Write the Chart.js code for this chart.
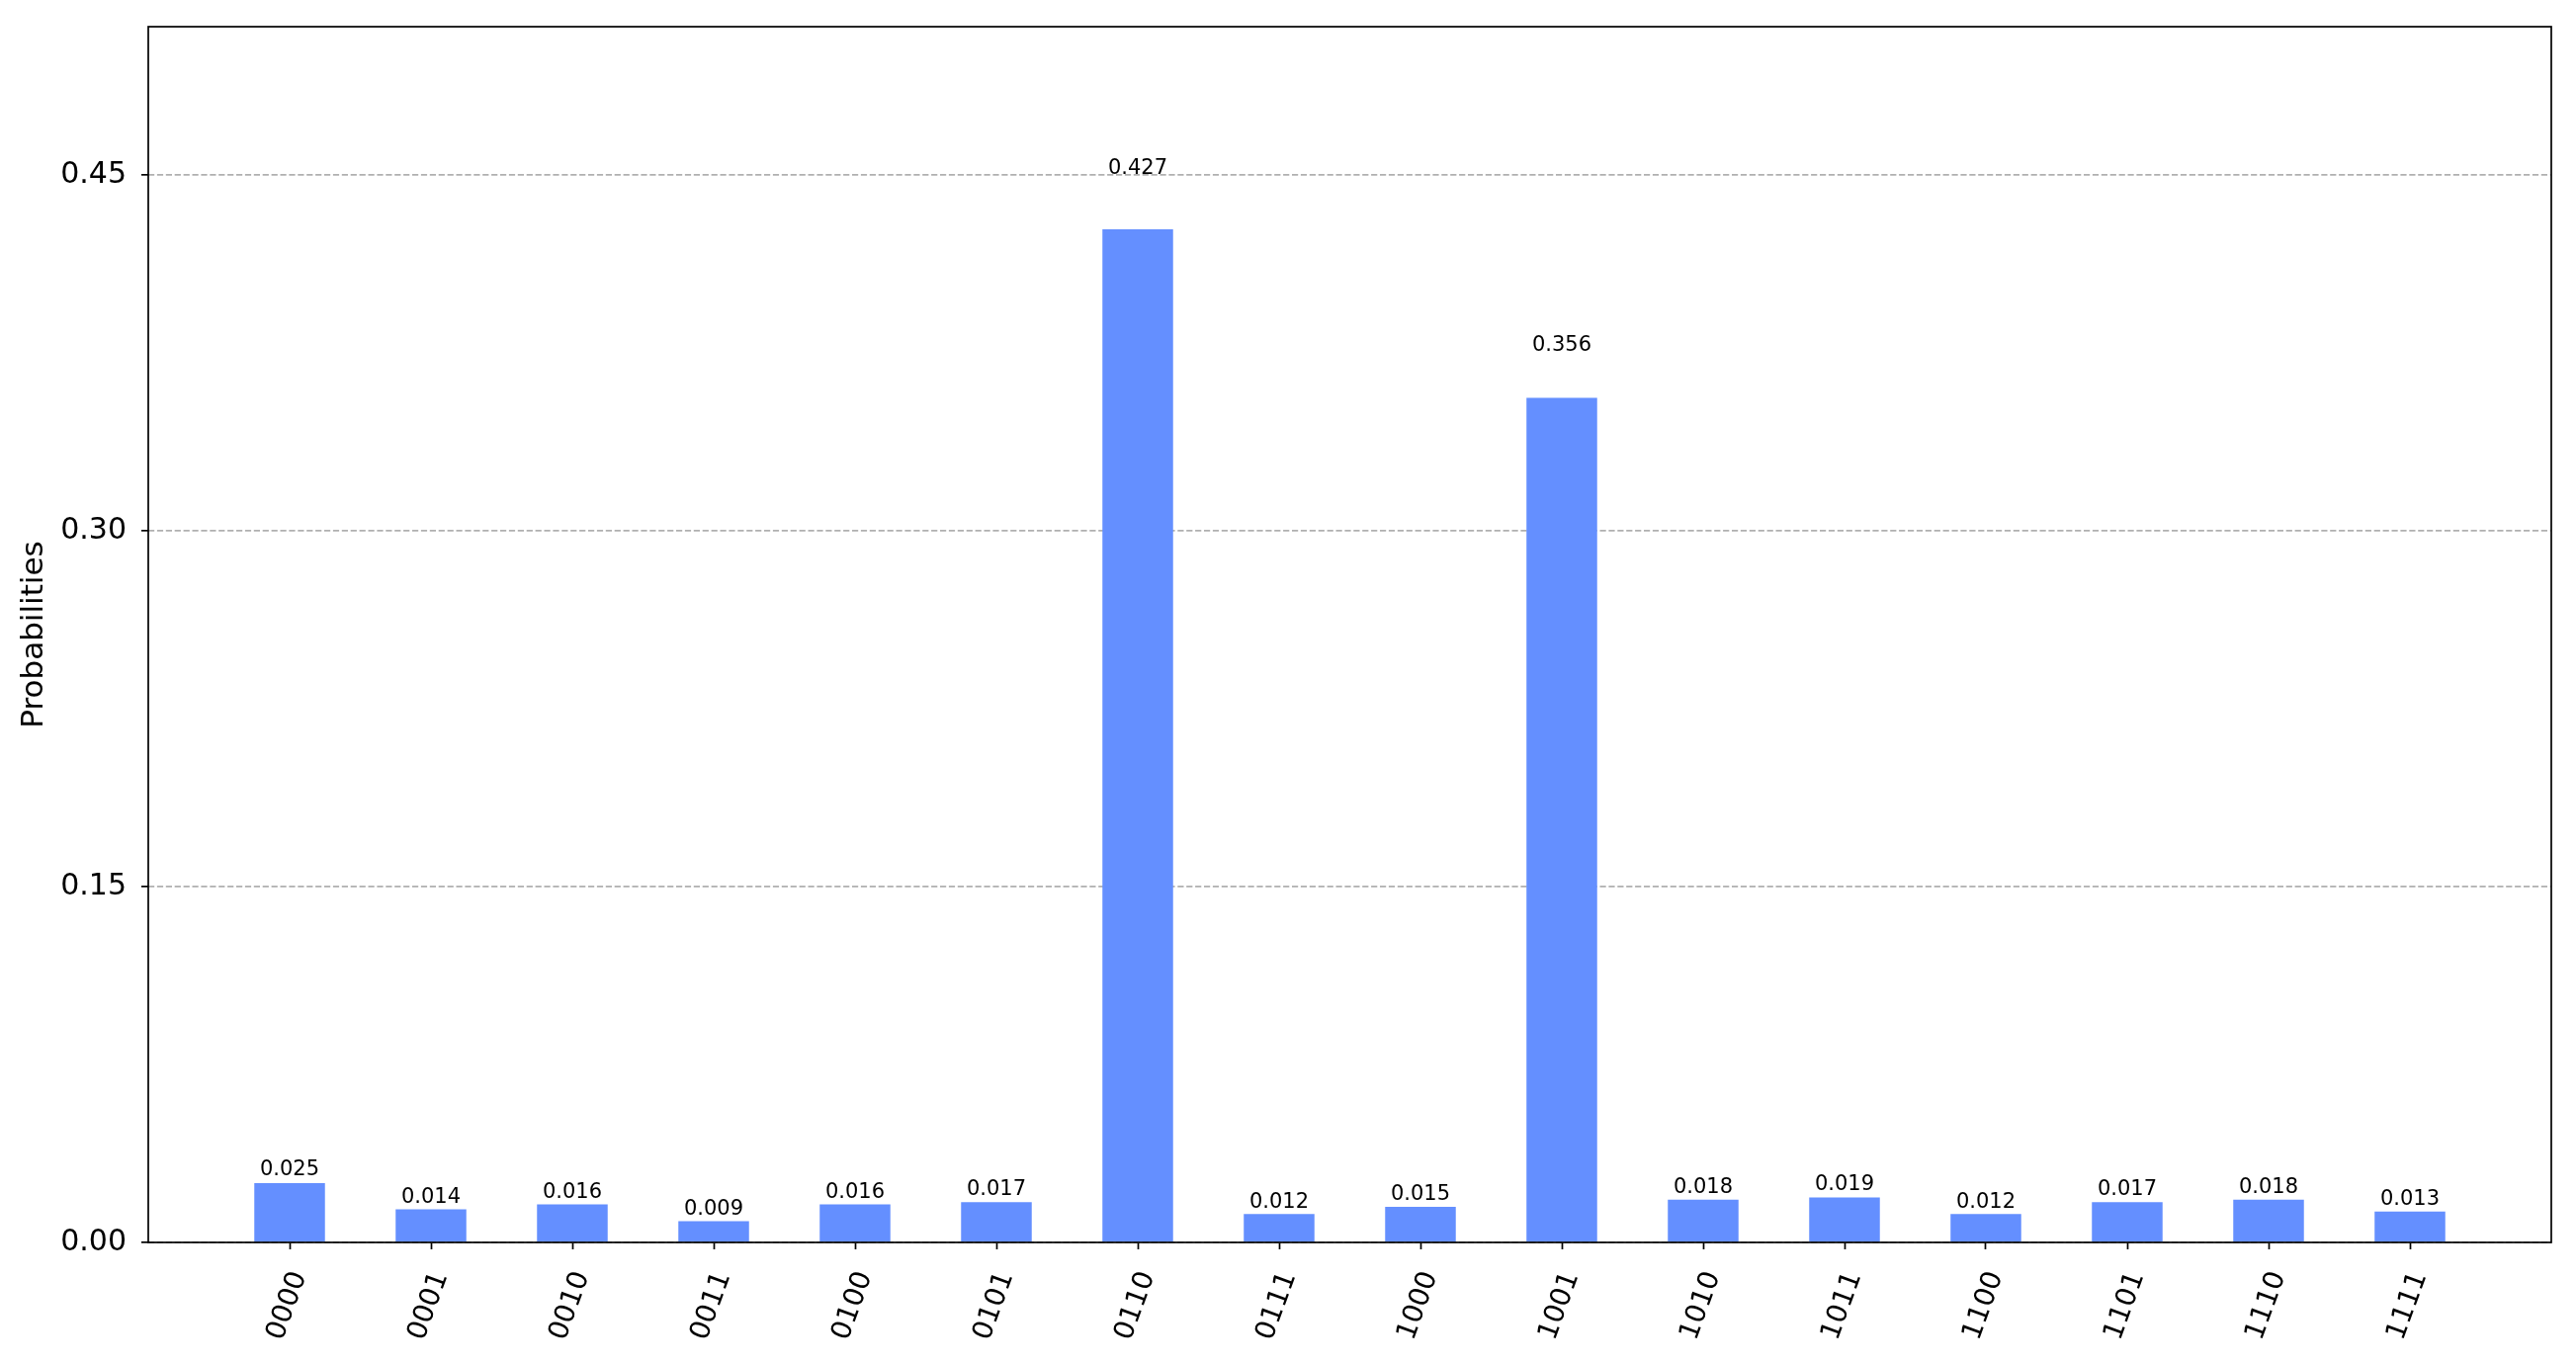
<!DOCTYPE html>
<html>
<head>
<meta charset="utf-8">
<title>Probabilities</title>
<script src="https://cdn.jsdelivr.net/npm/chart.js@4.4.1/dist/chart.umd.min.js"></script>
<style>
  html, body { margin: 0; padding: 0; background: #ffffff; }
  #wrap { width: 2606px; height: 1380px; }
</style>
</head>
<body>
<div id="wrap">
  <canvas id="histChart" width="2606" height="1380"></canvas>
</div>
<script>
// measured states and their probabilities
const states = ["0000", "0001", "0010", "0011", "0100", "0101", "0110", "0111",
                "1000", "1001", "1010", "1011", "1100", "1101", "1110", "1111"];
const probabilities = [0.025, 0.014, 0.016, 0.009, 0.016, 0.017, 0.427, 0.012,
                       0.015, 0.356, 0.018, 0.019, 0.012, 0.017, 0.018, 0.013];
const yTicks = [0, 0.15, 0.30, 0.45];

const barColor = "#648FFF";
const fontFamily = "'DejaVu Sans', sans-serif";

// value label above each bar, at 1.05 * height like the original plot
const valueLabels = {
    id: "valueLabels",
    afterDatasetsDraw(chart) {
        const ctx = chart.ctx;
        const meta = chart.getDatasetMeta(0);
        const yScale = chart.scales.y;
        ctx.save();
        ctx.font = "21px " + fontFamily;
        ctx.fillStyle = "#000000";
        ctx.textAlign = "center";
        ctx.textBaseline = "bottom";
        meta.data.forEach(function (bar, i) {
            const v = probabilities[i];
            ctx.fillText(v.toFixed(3), bar.x, yScale.getPixelForValue(v * 1.05));
        });
        ctx.restore();
    }
};

// full box around the plot area
const frame = {
    id: "frame",
    afterDraw(chart) {
        const a = chart.chartArea;
        const ctx = chart.ctx;
        ctx.save();
        ctx.strokeStyle = "#000000";
        ctx.lineWidth = 1.7;
        ctx.strokeRect(a.left, a.top, a.right - a.left, a.bottom - a.top);
        ctx.restore();
    }
};

document.addEventListener("DOMContentLoaded", function () {
    const ctx = document.getElementById("histChart").getContext("2d");

    new Chart(ctx, {
        type: "bar",
        data: {
            datasets: [{
                data: states.map((s, i) => ({ x: i, y: probabilities[i] })),
                backgroundColor: barColor,
                borderWidth: 0,
                barPercentage: 0.5,
                categoryPercentage: 1.0
            }]
        },
        options: {
            responsive: false,
            devicePixelRatio: 1,
            animation: false,
            layout: {
                padding: { top: 27, right: 25, left: 0, bottom: 0 }
            },
            scales: {
                x: {
                    type: "linear",
                    min: -1,
                    max: 16,
                    offset: false,
                    afterBuildTicks: function (scale) {
                        scale.ticks = states.map((s, i) => ({ value: i }));
                    },
                    afterFit: function (scale) {
                        scale.height = 123;
                        scale.paddingLeft = 0;
                        scale.paddingRight = 0;
                    },
                    grid: {
                        offset: false,
                        drawOnChartArea: false,
                        drawTicks: true,
                        tickLength: 7,
                        tickWidth: 1.7,
                        tickColor: "#000000"
                    },
                    border: { display: false },
                    ticks: {
                        autoSkip: false,
                        minRotation: 70,
                        maxRotation: 70,
                        padding: 18,
                        labelOffset: 10,
                        color: "#000000",
                        font: { family: fontFamily, size: 28 },
                        callback: function (value) {
                            return states[value] !== undefined ? states[value] : "";
                        }
                    }
                },
                y: {
                    min: 0,
                    max: 0.427 * 1.2,
                    afterBuildTicks: function (scale) {
                        scale.ticks = yTicks.map(v => ({ value: v }));
                    },
                    afterFit: function (scale) {
                        scale.width = 150;
                        scale.paddingTop = 0;
                        scale.paddingBottom = 0;
                    },
                    grid: {
                        color: "#b0b0b0",
                        lineWidth: 1.7,
                        drawTicks: true,
                        tickLength: 7,
                        tickWidth: 1.7,
                        tickColor: "#000000",
                        tickBorderDash: []
                    },
                    border: { display: false, dash: [6.2, 2.7] },
                    ticks: {
                        padding: 15,
                        color: "#000000",
                        font: { family: fontFamily, size: 30 },
                        callback: function (value) {
                            return value.toFixed(2);
                        }
                    },
                    title: {
                        display: true,
                        text: "Probabilities",
                        color: "#000000",
                        font: { family: fontFamily, size: 31 },
                        padding: { top: 16, bottom: 0 }
                    }
                }
            },
            plugins: {
                legend: { display: false },
                tooltip: { enabled: false }
            }
        },
        plugins: [valueLabels, frame]
    });
});
</script>
</body>
</html>
